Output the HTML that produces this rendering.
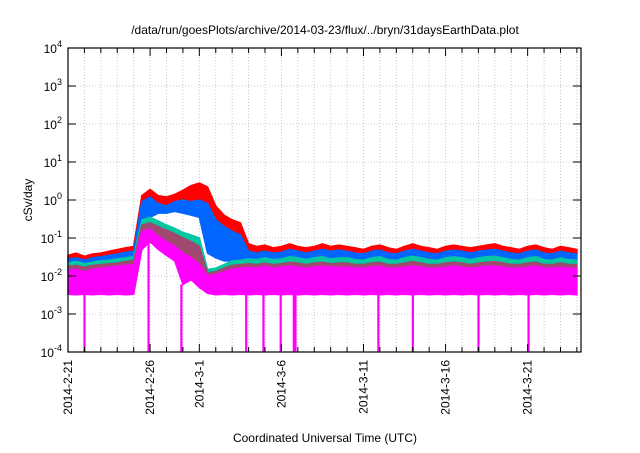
<!DOCTYPE html>
<html><head><meta charset="utf-8"><style>
body{margin:0;background:#fff;width:640px;height:448px;overflow:hidden;font-family:"Liberation Sans",sans-serif}
</style></head><body>
<svg id="chart" width="640" height="448" xmlns="http://www.w3.org/2000/svg" font-family="Liberation Sans, sans-serif">
<text x="325" y="34" font-size="12" text-anchor="middle">/data/run/goesPlots/archive/2014-03-23/flux/../bryn/31daysEarthData.plot</text>
<text transform="translate(32,200) rotate(-90)" font-size="12" text-anchor="middle">cSv/day</text>
<text x="325" y="442" font-size="12" text-anchor="middle">Coordinated Universal Time (UTC)</text>
<g id="grid"></g><g id="series"></g><g id="axes"></g>
</svg>
<script>
const dayLabels=["2014-2-21","2014-2-26","2014-3-1","2014-3-6","2014-3-11","2014-3-16","2014-3-21"];
const labelDays=[0,5,8,13,18,23,28];
const yExps=[-4,-3,-2,-1,0,1,2,3,4];
// half-day resolution, day = index/2
const redTop=[0.035,0.04,0.033,0.038,0.04,0.045,0.05,0.055,0.06,1.3,1.9,1.3,1.2,1.4,1.8,2.4,2.8,2.2,0.7,0.4,0.3,0.25,0.07,0.06,0.065,0.055,0.06,0.07,0.06,0.055,0.06,0.07,0.06,0.065,0.06,0.055,0.05,0.06,0.065,0.055,0.05,0.06,0.07,0.06,0.055,0.05,0.06,0.065,0.06,0.055,0.06,0.065,0.07,0.06,0.055,0.05,0.06,0.065,0.055,0.05,0.06,0.055,0.05];
const blueTop=[0.028,0.03,0.026,0.03,0.032,0.035,0.038,0.042,0.045,0.9,1.2,0.8,0.7,0.9,1.0,0.9,1.0,0.8,0.3,0.2,0.15,0.12,0.045,0.04,0.045,0.04,0.042,0.05,0.045,0.04,0.045,0.05,0.045,0.048,0.045,0.04,0.038,0.045,0.048,0.04,0.038,0.045,0.05,0.045,0.04,0.038,0.045,0.048,0.045,0.04,0.045,0.048,0.05,0.045,0.04,0.038,0.045,0.048,0.04,0.038,0.045,0.04,0.038];
const blueLow=[0.02,0.02,0.02,0.02,0.02,0.02,0.02,0.02,0.03,0.15,0.35,0.45,0.45,0.5,0.45,0.4,0.35,0.04,0.03,0.025,0.025,0.025,0.025,0.025,0.025,0.025,0.025,0.025,0.025,0.025,0.025,0.025,0.025,0.025,0.025,0.025,0.025,0.025,0.025,0.025,0.025,0.025,0.025,0.025,0.025,0.025,0.025,0.025,0.025,0.025,0.025,0.025,0.025,0.025,0.025,0.025,0.025,0.025,0.025,0.025,0.025,0.025,0.025];
const tealTop=[0.022,0.024,0.021,0.023,0.025,0.026,0.028,0.03,0.032,0.3,0.35,0.28,0.22,0.18,0.14,0.12,0.1,0.015,0.016,0.02,0.025,0.026,0.028,0.027,0.03,0.027,0.028,0.032,0.03,0.027,0.03,0.032,0.028,0.03,0.03,0.027,0.026,0.03,0.032,0.027,0.026,0.03,0.033,0.03,0.027,0.026,0.03,0.032,0.03,0.027,0.03,0.032,0.033,0.03,0.027,0.026,0.03,0.032,0.027,0.026,0.03,0.027,0.026];
const purpleTop=[0.018,0.019,0.017,0.019,0.02,0.021,0.022,0.024,0.026,0.22,0.25,0.2,0.16,0.13,0.1,0.08,0.06,0.012,0.013,0.016,0.019,0.02,0.021,0.02,0.022,0.02,0.021,0.023,0.022,0.02,0.022,0.023,0.021,0.022,0.022,0.02,0.02,0.022,0.023,0.02,0.02,0.022,0.024,0.022,0.02,0.02,0.022,0.023,0.022,0.02,0.022,0.023,0.024,0.022,0.02,0.02,0.022,0.023,0.02,0.02,0.022,0.02,0.02];
const magTop=[0.014,0.015,0.013,0.015,0.016,0.017,0.018,0.019,0.02,0.15,0.17,0.11,0.08,0.06,0.04,0.03,0.02,0.01,0.011,0.013,0.015,0.016,0.017,0.016,0.018,0.016,0.017,0.018,0.017,0.016,0.017,0.018,0.017,0.017,0.017,0.016,0.016,0.017,0.018,0.016,0.016,0.017,0.018,0.017,0.016,0.016,0.017,0.018,0.017,0.016,0.017,0.018,0.018,0.017,0.016,0.016,0.017,0.018,0.016,0.016,0.017,0.016,0.016];
const magLow=[0.0033,0.0032,0.0033,0.0032,0.0033,0.0032,0.0033,0.0032,0.0033,0.05,0.08,0.05,0.035,0.025,0.006,0.008,0.005,0.0035,0.0032,0.0033,0.0032,0.0033,0.0032,0.0033,0.0032,0.0033,0.0032,0.0033,0.0032,0.0033,0.0032,0.0033,0.0032,0.0033,0.0032,0.0033,0.0032,0.0033,0.0032,0.0033,0.0032,0.0033,0.0032,0.0033,0.0032,0.0033,0.0032,0.0033,0.0032,0.0033,0.0032,0.0033,0.0032,0.0033,0.0032,0.0033,0.0032,0.0033,0.0032,0.0033,0.0032,0.0033,0.0032];
const dropoutDays=[1.0,4.9,6.9,10.85,11.9,12.95,13.75,13.85,18.9,21.0,25.0,28.05];
const X0=68,X1=581,Y0=48,Y1=352,DAYS=31.25;
const xs=d=>X0+d*(X1-X0)/DAYS;
const ys=v=>Y0+(4-Math.log10(v))*(Y1-Y0)/8;
const NS="http://www.w3.org/2000/svg";
function mk(tag,attrs,parent){const e=document.createElementNS(NS,tag);for(const k in attrs)e.setAttribute(k,attrs[k]);parent.appendChild(e);return e;}
const grid=document.getElementById('grid'),ser=document.getElementById('series'),ax=document.getElementById('axes');
for(let d=1;d<DAYS;d++){const l=mk('line',{x1:xs(d),x2:xs(d),y1:Y0,y2:Y1,stroke:'#bbb','stroke-width':0.8,'stroke-dasharray':'1,2'},grid);

}
yExps.forEach(e=>{const l=mk('line',{x1:X0,x2:X1,y1:ys(Math.pow(10,e)),y2:ys(Math.pow(10,e)),stroke:'#bbb','stroke-width':0.8,'stroke-dasharray':'1,2'},grid);

});
function band(top,low,color,name){let p=top.map((v,i)=>xs(i/2)+','+ys(v));for(let i=low.length-1;i>=0;i--)p.push(xs(i/2)+','+ys(low[i]));
const e=mk('polygon',{points:p.join(' '),fill:color,stroke:color,'stroke-width':1.5,'stroke-linejoin':'miter'},ser);

}
band(redTop,blueTop,'#ff0000','series-red');
band(blueTop,blueLow,'#0066ff','series-blue');
band(tealTop,purpleTop,'#00c8a0','series-teal');
band(purpleTop,magTop,'#a04870','series-purple');
band(magTop,magLow,'#ff00ff','series-magenta');
dropoutDays.forEach(d=>{const lv=magLow[Math.min(magLow.length-1,Math.round(d*2))];const top=ys(lv);
const r=mk('rect',{x:xs(d)-1,y:top,width:2.2,height:Y1-top,fill:'#ff00ff'},ser);

});
const fr=mk('rect',{x:X0,y:Y0,width:X1-X0,height:Y1-Y0,fill:'none',stroke:'#000','stroke-width':1.2},ax);


for(let d=1;d<DAYS;d++){const isL=labelDays.includes(d);const len=isL?8:5;
mk('line',{x1:xs(d),x2:xs(d),y1:Y1,y2:Y1-len,stroke:'#000'},ax);mk('line',{x1:xs(d),x2:xs(d),y1:Y0,y2:Y0+len,stroke:'#000'},ax);}
yExps.forEach(e=>{const y=ys(Math.pow(10,e));mk('line',{x1:X0,x2:X0+8,y1:y,y2:y,stroke:'#000'},ax);mk('line',{x1:X1,x2:X1-8,y1:y,y2:y,stroke:'#000'},ax);
const t=mk('text',{x:X0-6,y:y+5,'font-size':12,'text-anchor':'end'},ax);t.textContent='10';


const s=mk('tspan',{dy:-6,'font-size':9},t);s.textContent=(e<0?'-':'')+Math.abs(e);});
dayLabels.forEach((lab,i)=>{const x=xs(labelDays[i]);const t=mk('text',{transform:`translate(${x+4},${Y1+8}) rotate(-90)`,'font-size':12,'text-anchor':'end'},ax);t.textContent=lab;

});
</script>
</body></html>
